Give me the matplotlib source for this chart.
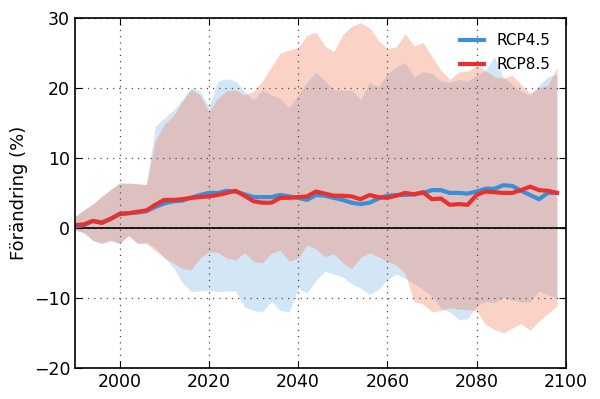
import numpy as np
import matplotlib
matplotlib.use("Agg")
from matplotlib import pyplot as plt

years = np.arange(1990, 2099, 2)

# RCP4.5 mean and spread
rcp45_mean = [0.2, 0.4, 1.0, 0.8, 1.3, 2.0, 2.1, 2.2, 2.4, 3.0,
              3.5, 3.8, 3.9, 4.3, 4.7, 5.0, 5.0, 5.3, 5.2, 4.8,
              4.4, 4.4, 4.4, 4.7, 4.5, 4.3, 4.0, 4.7, 4.6, 4.3,
              4.0, 3.6, 3.4, 3.6, 4.2, 4.6, 4.7, 4.7, 4.8, 5.0,
              5.4, 5.4, 5.0, 5.0, 4.9, 5.2, 5.6, 5.6, 6.1, 6.0,
              5.3, 4.7, 4.1, 5.0, 5.0]
rcp45_upper = [1.6, 2.6, 3.4, 4.5, 5.5, 6.4, 6.4, 6.3, 6.2, 14.5,
               15.7, 16.8, 18.3, 20.0, 19.6, 17.3, 21.0, 21.3, 21.0, 19.5,
               18.3, 19.7, 19.0, 18.5, 17.2, 19.0, 20.8, 22.3, 21.0, 19.8,
               19.7, 19.7, 18.3, 20.8, 20.2, 22.0, 23.0, 23.6, 21.6, 22.3,
               22.1, 21.0, 20.8, 21.2, 21.0, 21.8, 22.5, 24.5, 21.5, 20.5,
               19.5, 19.0, 20.4, 21.6, 22.0]
rcp45_lower = [-0.3, -0.7, -1.8, -2.2, -1.8, -2.2, -1.1, -2.2, -2.1, -2.8,
               -4.3, -5.6, -7.8, -9.1, -9.0, -8.9, -9.1, -9.0, -9.0, -11.3,
               -11.8, -12.0, -10.5, -11.8, -12.0, -8.6, -9.3, -7.5, -6.2, -6.6,
               -7.0, -8.0, -8.6, -9.5, -8.8, -7.4, -6.6, -7.2, -8.0, -8.8,
               -9.8, -11.5, -12.0, -13.1, -13.0, -11.2, -10.5, -10.7, -10.0, -10.3,
               -10.6, -10.6, -9.0, -9.6, -10.0]

# RCP8.5 mean and spread
rcp85_mean = [0.4, 0.5, 1.0, 0.7, 1.3, 2.0, 2.1, 2.3, 2.5, 3.3,
              4.0, 4.0, 4.1, 4.3, 4.4, 4.5, 4.7, 5.0, 5.3, 4.6,
              3.8, 3.6, 3.6, 4.3, 4.3, 4.4, 4.5, 5.2, 4.9, 4.6,
              4.6, 4.5, 4.1, 4.7, 4.4, 4.3, 4.6, 5.0, 4.8, 5.1,
              4.1, 4.2, 3.3, 3.4, 3.3, 4.7, 5.2, 5.1, 5.0, 5.0,
              5.4, 5.9, 5.4, 5.3, 5.0]
rcp85_upper = [1.6, 2.6, 3.4, 4.5, 5.5, 6.4, 6.4, 6.3, 6.2, 12.5,
               14.8, 16.0, 18.0, 19.8, 19.0, 16.6, 18.5, 19.6, 19.7, 19.0,
               19.5, 21.0, 23.0, 25.0, 25.4, 25.8, 27.5, 28.0, 26.0, 25.2,
               27.6, 28.8, 29.3, 28.6, 26.8, 25.6, 25.9, 27.8, 26.0, 26.5,
               24.5, 22.5, 21.2, 22.3, 22.4, 23.2, 22.5, 21.6, 21.4, 21.8,
               20.5, 19.2, 20.0, 20.4, 22.9]
rcp85_lower = [-0.3, -0.7, -1.8, -2.2, -1.8, -2.2, -1.1, -2.2, -2.2, -3.3,
               -4.2, -5.0, -5.8, -6.0, -4.3, -3.4, -3.5, -4.3, -4.6, -3.5,
               -4.8, -5.0, -3.6, -3.2, -4.8, -4.3, -2.4, -3.0, -4.1, -3.7,
               -5.0, -5.8, -4.2, -3.6, -4.1, -4.8, -5.3, -6.5, -10.5, -10.9,
               -12.0, -11.8, -11.4, -11.6, -11.7, -11.8, -13.8, -14.5, -15.0, -14.3,
               -13.7, -14.6, -13.3, -12.2, -11.2]

blue = "#3a8fd9"
red = "#e8302e"

fig = plt.figure(figsize=(6, 3.99), dpi=100)
ax = fig.add_axes([0.125, 0.078, 0.818, 0.877])

ax.fill_between(years, rcp45_lower, rcp45_upper, color=blue, alpha=0.22, linewidth=0)
ax.fill_between(years, rcp85_lower, rcp85_upper, color="#f46d43", alpha=0.3, linewidth=0)
ax.axhline(0, color="black", linewidth=1.2)
ax.plot(years, rcp45_mean, color=blue, linewidth=3, label="RCP4.5")
ax.plot(years, rcp85_mean, color=red, linewidth=3, label="RCP8.5")

ax.set_xlim(1990, 2100)
ax.set_ylim(-20, 30)
ax.set_xticks([2000, 2020, 2040, 2060, 2080, 2100])
ax.set_yticks([-20, -10, 0, 10, 20, 30])
ax.tick_params(direction="in", top=True, right=True, labelsize=12.5, length=5)
ax.grid(True, color="0.3", linestyle=(0, (1, 4)), linewidth=0.9)
ax.set_ylabel("Förändring (%)", fontsize=13)
for s in ax.spines.values():
    s.set_linewidth(1.2)

ax.legend(loc="upper right", frameon=False, fontsize=11, handlelength=1.6,
          labelspacing=0.6, borderaxespad=0.6)

fig.savefig("out.png", dpi=100)
